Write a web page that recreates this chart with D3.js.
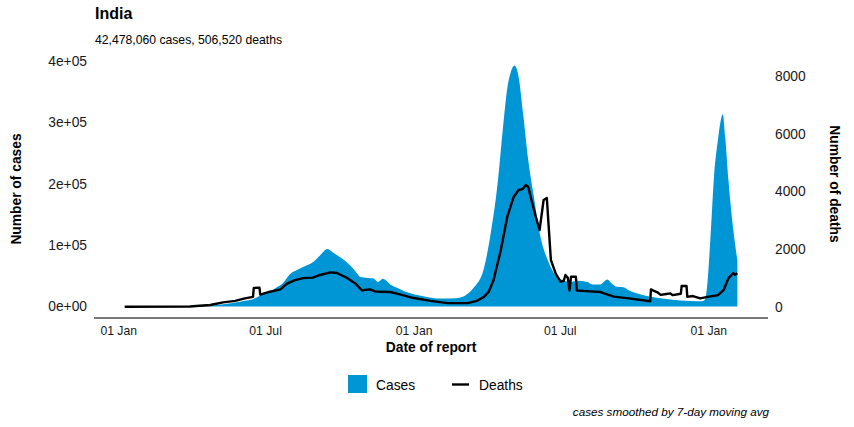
<!DOCTYPE html>
<html>
<head>
<meta charset="utf-8">
<script src="https://cdn.jsdelivr.net/npm/d3@7"></script>
<style>
  html, body { margin: 0; padding: 0; background: #fff; }
  svg { display: block; font-family: "Liberation Sans", Arial, Helvetica, sans-serif; }
</style>
</head>
<body>
<svg id="chart" width="854" height="427"></svg>
<script>
// ---------------- DATA ----------------
const title = "India";
const subtitle = "42,478,060 cases, 506,520 deaths";
const caption = "cases smoothed by 7-day moving avg";

const caseDates = [
  "2020-01-09","2020-03-15","2020-04-10","2020-04-24","2020-05-10","2020-05-25","2020-06-06","2020-06-16",
  "2020-06-25","2020-07-07","2020-07-15","2020-07-23","2020-08-01","2020-08-10","2020-08-20","2020-08-30",
  "2020-09-07","2020-09-16","2020-09-23","2020-10-02","2020-10-11","2020-10-21","2020-10-27","2020-11-05",
  "2020-11-12","2020-11-18","2020-11-24","2020-12-03","2020-12-12","2020-12-22","2021-01-01","2021-01-16",
  "2021-02-03","2021-02-22","2021-03-06","2021-03-16","2021-03-29","2021-04-06","2021-04-15","2021-04-21",
  "2021-04-27","2021-05-01","2021-05-06","2021-05-11","2021-05-17","2021-05-23","2021-05-30","2021-06-07",
  "2021-06-16","2021-06-28","2021-07-14","2021-07-23","2021-08-04","2021-08-11","2021-08-20","2021-08-29",
  "2021-09-03","2021-09-10","2021-09-18","2021-09-25","2021-10-05","2021-10-21","2021-11-15","2021-12-10",
  "2021-12-24","2021-12-28","2021-12-31","2022-01-04","2022-01-08","2022-01-13","2022-01-16","2022-01-19",
  "2022-01-22","2022-01-26","2022-02-01","2022-02-06"
];
const caseValues = [
  0,100,800,1500,3500,6500,9500,12000,
  18000,24000,31000,38000,53000,60000,66000,73000,
  83000,93500,88000,80000,71000,57000,48000,46500,
  46000,40000,45000,36000,30000,24000,20000,16000,
  13000,13500,18000,30000,62000,115000,200000,282000,
  355000,380000,392000,374000,309000,238000,178000,114000,
  76000,48000,40000,42000,40000,36000,36000,44000,
  38000,32000,31500,26000,21000,16000,11500,9000,
  8500,12000,40000,120000,210000,272000,300000,313000,
  275000,205000,125000,75000
];

const deathDates = [
  "2020-01-09","2020-03-30","2020-04-11","2020-04-24","2020-05-10","2020-05-25","2020-06-06","2020-06-16",
  "2020-06-17","2020-06-24","2020-06-25","2020-07-07","2020-07-20","2020-07-28","2020-08-07","2020-08-17",
  "2020-08-29","2020-09-07","2020-09-20","2020-09-28","2020-10-11","2020-10-21","2020-10-29","2020-11-03",
  "2020-11-08","2020-11-14","2020-11-21","2020-12-03","2020-12-16","2021-01-01","2021-01-22","2021-02-12",
  "2021-03-09","2021-03-20","2021-03-29","2021-04-04","2021-04-10","2021-04-19","2021-04-27","2021-05-05",
  "2021-05-11","2021-05-16","2021-05-20","2021-05-23","2021-05-26","2021-06-01","2021-06-06","2021-06-11",
  "2021-06-15","2021-06-17","2021-06-20","2021-06-26","2021-07-02","2021-07-06","2021-07-08","2021-07-11",
  "2021-07-13","2021-07-15","2021-07-21","2021-07-22","2021-08-08","2021-08-20","2021-08-24","2021-09-06",
  "2021-09-27","2021-10-21","2021-10-22","2021-10-25","2021-10-30","2021-11-03","2021-11-10","2021-11-15",
  "2021-11-18","2021-11-28","2021-11-29","2021-12-05","2021-12-06","2021-12-13","2021-12-22","2021-12-31",
  "2022-01-13","2022-01-20","2022-01-26","2022-02-01","2022-02-03","2022-02-06"
];
const deathValues = [
  0,5,35,60,150,200,290,340,
  650,660,420,520,600,800,920,990,
  1010,1100,1190,1170,990,800,560,590,
  600,530,520,510,420,300,200,125,
  125,200,340,520,925,1965,3120,3814,
  4046,4080,4220,4150,3800,3150,2660,3700,
  3770,2900,1620,1150,870,900,1100,1000,
  560,1040,1040,560,530,510,470,350,
  280,190,600,560,500,410,440,460,
  400,450,720,720,340,370,290,340,
  400,580,990,1170,1110,1160
];

const caseTicks = [0, 100000, 200000, 300000, 400000];
const caseTickLabels = ["0e+00", "1e+05", "2e+05", "3e+05", "4e+05"];
const deathTicks = [0, 2000, 4000, 6000, 8000];
const deathTickLabels = ["0", "2000", "4000", "6000", "8000"];
const dateTicks = ["2020-01-01", "2020-07-01", "2021-01-01", "2021-07-01", "2022-01-01"];

const legendLabels = ["Cases", "Deaths"];

// ---------------- CHART ----------------
const parse = d3.timeParse("%Y-%m-%d");
const cases = caseDates.map((d, i) => ({ date: parse(d), value: caseValues[i] }));
const deaths = deathDates.map((d, i) => ({ date: parse(d), value: deathValues[i] }));

const svg = d3.select("#chart");
const blue = "#0096d6";

const ext = d3.extent(cases.concat(deaths), d => d.date);
const span = ext[1] - ext[0];
const x = d3.scaleTime()
  .domain([new Date(+ext[0] - 0.05 * span), new Date(+ext[1] + 0.05 * span)])
  .range([94, 768]);

const yC = d3.scaleLinear().domain([0, 400000]).range([306.5, 60.7]);
const yD = d3.scaleLinear().domain([0, 8000]).range([306.7, 76]);

// area
svg.append("path")
  .datum(cases)
  .attr("fill", blue)
  .attr("d", d3.area().x(d => x(d.date)).y0(yC(0)).y1(d => yC(d.value)).curve(d3.curveMonotoneX));

// deaths line
svg.append("path")
  .datum(deaths)
  .attr("fill", "none")
  .attr("stroke", "#000")
  .attr("stroke-width", 2.4)
  .attr("stroke-linejoin", "round")
  .attr("d", d3.line().x(d => x(d.date)).y(d => yD(d.value)).curve(d3.curveLinear));

// x axis
const xAxis = d3.axisBottom(x)
  .tickValues(dateTicks.map(parse))
  .tickFormat(d3.timeFormat("%d %b"))
  .tickSize(0).tickPadding(0);
const gx = svg.append("g").attr("transform", "translate(0,318)").call(xAxis);
gx.select(".domain").remove();
gx.selectAll("text").attr("y", 8).attr("dy", "0.71em")
  .attr("font-size", 12.2).attr("fill", "#1a1a1a").attr("font-family", null);
svg.append("line").attr("x1", 94).attr("x2", 768).attr("y1", 318).attr("y2", 318)
  .attr("stroke", "#4d4d4d").attr("stroke-width", 1.6);

// left axis
const yAxisL = d3.axisLeft(yC).tickValues(caseTicks)
  .tickFormat((d, i) => caseTickLabels[i]).tickSize(0).tickPadding(0);
const gl = svg.append("g").attr("transform", "translate(87,0)").call(yAxisL);
gl.select(".domain").remove();
gl.selectAll("text").attr("font-size", 13.8).attr("fill", "#1a1a1a").attr("font-family", null);

// right axis
const yAxisR = d3.axisRight(yD).tickValues(deathTicks)
  .tickFormat((d, i) => deathTickLabels[i]).tickSize(0).tickPadding(0);
const gr = svg.append("g").attr("transform", "translate(775,0)").call(yAxisR);
gr.select(".domain").remove();
gr.selectAll("text").attr("font-size", 13.8).attr("fill", "#1a1a1a").attr("font-family", null);

// titles
svg.append("text").attr("x", 95).attr("y", 18.5).attr("font-size", 16).attr("font-weight", "bold")
  .attr("fill", "#000").text(title);
svg.append("text").attr("x", 95).attr("y", 44).attr("font-size", 12.2).attr("fill", "#000").text(subtitle);

svg.append("text").attr("transform", "translate(21,189) rotate(-90)").attr("text-anchor", "middle")
  .attr("font-size", 13.8).attr("font-weight", "bold").text("Number of cases");
svg.append("text").attr("transform", "translate(830,184) rotate(90)").attr("text-anchor", "middle")
  .attr("font-size", 13.8).attr("font-weight", "bold").text("Number of deaths");
svg.append("text").attr("x", 431).attr("y", 352).attr("text-anchor", "middle")
  .attr("font-size", 13.8).attr("font-weight", "bold").text("Date of report");

// legend
svg.append("rect").attr("x", 348).attr("y", 375).attr("width", 19).attr("height", 18).attr("fill", blue);
svg.append("text").attr("x", 376).attr("y", 389.5).attr("font-size", 13.8).text(legendLabels[0]);
svg.append("line").attr("x1", 452).attr("x2", 469).attr("y1", 384.5).attr("y2", 384.5)
  .attr("stroke", "#000").attr("stroke-width", 2.4);
svg.append("text").attr("x", 479).attr("y", 389.5).attr("font-size", 13.8).text(legendLabels[1]);

// caption
svg.append("text").attr("x", 769).attr("y", 416).attr("text-anchor", "end")
  .attr("font-size", 11.7).attr("font-style", "italic").text(caption);
</script>
</body>
</html>
